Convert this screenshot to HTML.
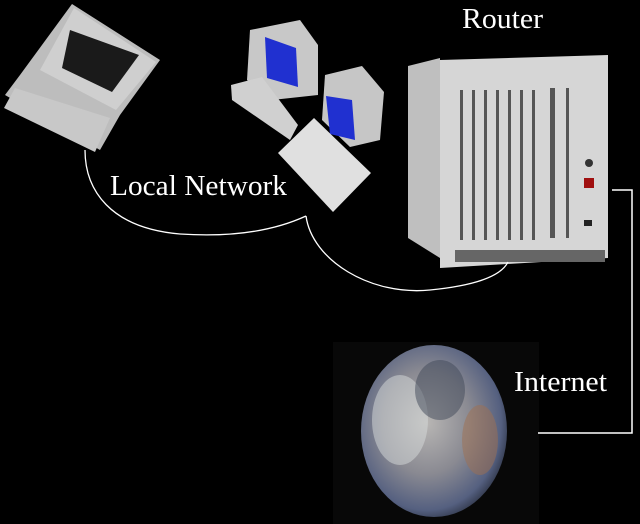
<!DOCTYPE html>
<html><head><style>
html,body{margin:0;padding:0;background:#000;}
svg{display:block;}
text{font-family:"Liberation Serif",serif;fill:#fff;}
</style></head><body>
<svg width="640" height="524" viewBox="0 0 640 524" xmlns="http://www.w3.org/2000/svg">
<rect width="640" height="524" fill="#000"/>
<defs>
<radialGradient id="earth" cx="45%" cy="45%" r="60%">
<stop offset="0" stop-color="#b8b6b4"/>
<stop offset="0.5" stop-color="#8a8a92"/>
<stop offset="0.85" stop-color="#556080"/>
<stop offset="1" stop-color="#2a3040"/>
</radialGradient>
</defs>
<!-- laptop -->
<polygon points="72,4 160,60 120,115 100,150 5,95 20,75" fill="#bdbdbd"/>
<polygon points="74,8 156,62 116,110 40,70" fill="#cfcfcf"/>
<polygon points="70,30 139,55 112,92 62,68" fill="#1a1a1a"/>
<polygon points="15,88 110,118 95,152 4,108" fill="#c8c8c8"/>
<!-- computers -->
<polygon points="250,30 300,20 318,45 318,95 272,100 247,80" fill="#c8c8c8"/>
<polygon points="265,37 296,48 298,87 267,78" fill="#2030d0"/>
<polygon points="231,85 262,77 298,125 290,140 232,100" fill="#d0d0d0"/>
<polygon points="325,75 362,66 384,92 380,140 350,147 322,120" fill="#c6c6c6"/>
<polygon points="326,96 352,100 355,140 330,134" fill="#2030d0"/>
<polygon points="278,153 314,118 371,173 333,212" fill="#e0e0e0"/>
<!-- router -->
<polygon points="408,66 440,58 440,258 408,238" fill="#bfbfbf"/>
<polygon points="440,60 608,55 608,258 440,268" fill="#d6d6d6"/>
<g fill="#555">
<rect x="460" y="90" width="3" height="150"/><rect x="472" y="90" width="3" height="150"/>
<rect x="484" y="90" width="3" height="150"/><rect x="496" y="90" width="3" height="150"/>
<rect x="508" y="90" width="3" height="150"/><rect x="520" y="90" width="3" height="150"/>
<rect x="532" y="90" width="3" height="150"/><rect x="550" y="88" width="5" height="150"/>
<rect x="566" y="88" width="3" height="150"/>
<rect x="455" y="250" width="150" height="12" fill="#666"/>
</g>
<rect x="584" y="178" width="10" height="10" fill="#a01010"/>
<circle cx="589" cy="163" r="4" fill="#333"/>
<rect x="584" y="220" width="8" height="6" fill="#222"/>
<!-- earth -->
<rect x="333" y="342" width="206" height="182" fill="#080808"/>
<ellipse cx="434" cy="431" rx="73" ry="86" fill="url(#earth)"/>
<ellipse cx="400" cy="420" rx="28" ry="45" fill="#d8dcdc" opacity="0.5"/>
<ellipse cx="480" cy="440" rx="18" ry="35" fill="#a07050" opacity="0.5"/>
<ellipse cx="440" cy="390" rx="25" ry="30" fill="#404858" opacity="0.5"/>
<!-- lines -->
<path d="M85,150 C85,190 110,228 180,234 C240,238 280,228 306,216" fill="none" stroke="#fff" stroke-width="1.3"/>
<path d="M306,216 C312,260 370,296 430,290 C470,286 500,278 508,262" fill="none" stroke="#fff" stroke-width="1.3"/>
<polyline points="612,190 632,190 632,433 538,433" fill="none" stroke="#fff" stroke-width="1.5"/>
<!-- labels -->
<text x="462" y="28" font-size="29" textLength="81" lengthAdjust="spacingAndGlyphs">Router</text>
<text x="110" y="195" font-size="29" textLength="177" lengthAdjust="spacingAndGlyphs">Local Network</text>
<text x="514" y="391" font-size="29" textLength="93" lengthAdjust="spacingAndGlyphs">Internet</text>
</svg>
</body></html>
